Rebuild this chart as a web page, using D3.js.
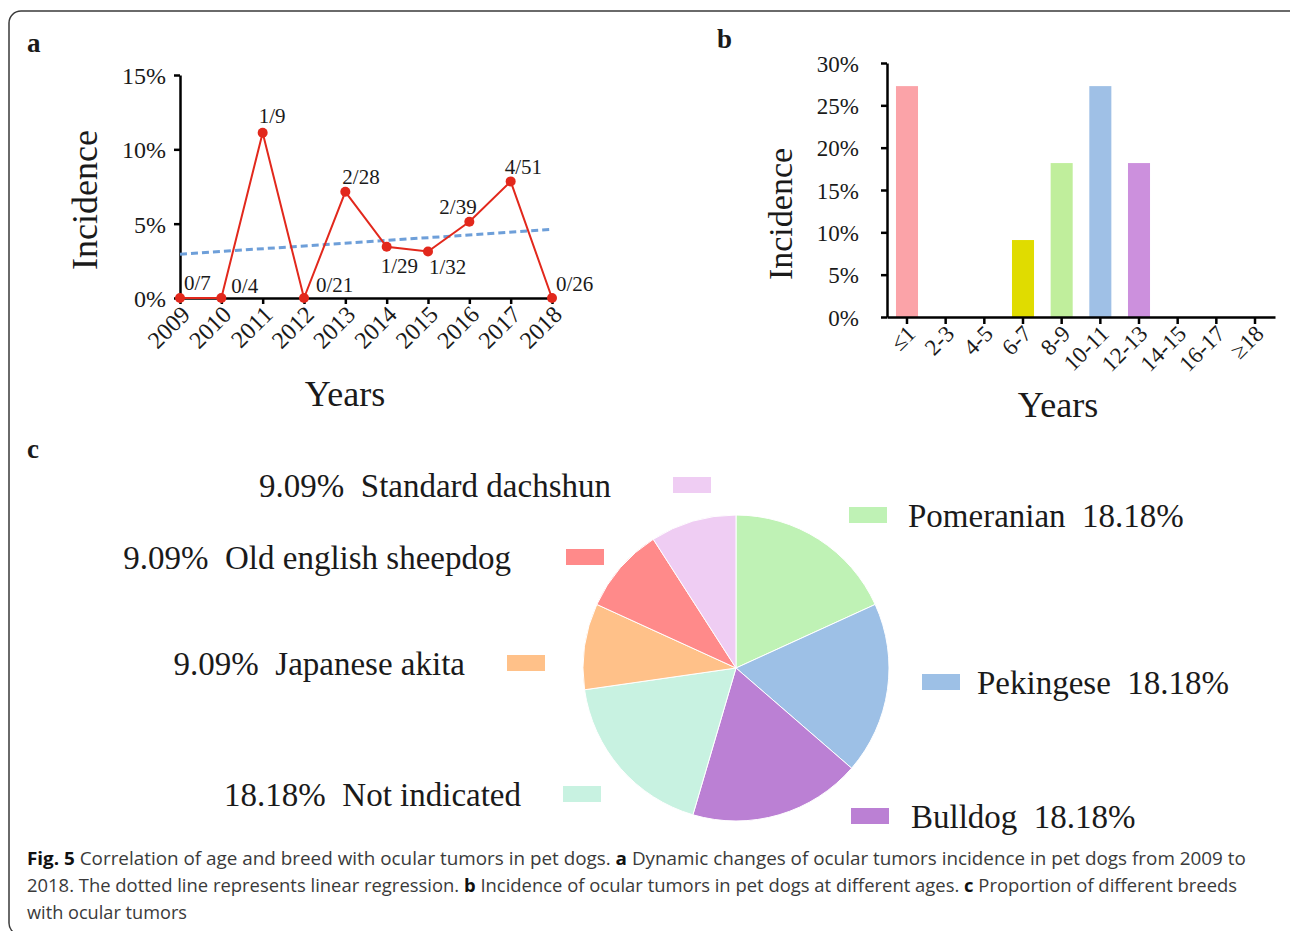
<!DOCTYPE html>
<html>
<head>
<meta charset="utf-8">
<script src="https://cdn.jsdelivr.net/npm/d3@7"></script>
<style>
  body { margin: 0; background: #fff; }
  svg { display: block; }
  .serif { font-family: "Liberation Serif", "Times New Roman", serif; fill: #1a1a1a; }
</style>
</head>
<body>
<div class="container"></div>
<script>
// panel a: cases / total per year
var years = ['2009', '2010', '2011', '2012', '2013', '2014', '2015', '2016', '2017', '2018'];
var cases = [0, 0, 1, 0, 2, 1, 1, 2, 4, 0];
var totals = [7, 4, 9, 21, 28, 29, 32, 39, 51, 26];
var yTicksA = [0, 0.05, 0.10, 0.15];

// panel b: incidence by age group
var ageGroups = ['\u22641', '2-3', '4-5', '6-7', '8-9', '10-11', '12-13', '14-15', '16-17', '\u226518'];
var ageIncidence = [0.2727, 0, 0, 0.0909, 0.1818, 0.2727, 0.1818, 0, 0, 0];
var ageColors = ['#fba3a8', '#fff', '#fff', '#e0dc00', '#c0ee9c', '#9fc0e6', '#cc90dd', '#fff', '#fff', '#fff'];
var yTicksB = [0, 0.05, 0.10, 0.15, 0.20, 0.25, 0.30];

// panel c: breeds (clockwise from 12 o'clock)
var breeds = ['Pomeranian', 'Pekingese', 'Bulldog', 'Not indicated', 'Japanese akita', 'Old english sheepdog', 'Standard dachshun'];
var breedShare = [18.18, 18.18, 18.18, 18.18, 9.09, 9.09, 9.09];
var breedColors = ['#bff2b5', '#9dc0e6', '#bb80d4', '#c8f2e1', '#ffc189', '#ff8a8a', '#efcdf3'];

var captionLines = [
    [['Fig. 5', true], [' Correlation of age and breed with ocular tumors in pet dogs. ', false], ['a', true], [' Dynamic changes of ocular tumors incidence in pet dogs from 2009 to', false]],
    [['2018. The dotted line represents linear regression. ', false], ['b', true], [' Incidence of ocular tumors in pet dogs at different ages. ', false], ['c', true], [' Proportion of different breeds', false]],
    [['with ocular tumors', false]]
];
var captionWidths = [1220, 1211, 160];

var drawChart = function () {
    var svg = d3.select('.container')
        .append('svg')
        .attr('width', 1290)
        .attr('height', 931);

    // frame
    svg.append('rect')
        .attr('x', 9).attr('y', 11)
        .attr('width', 1300).attr('height', 924)
        .attr('rx', 12)
        .style('fill', 'none')
        .style('stroke', '#3a3a3a')
        .style('stroke-width', 1.5);

    // ---------- panel a ----------
    var rates = cases.map(function (c, i) { return c / totals[i]; });
    var xA = d3.scalePoint().domain(years).range([180, 552]);
    var yA = d3.scaleLinear().domain([0, 0.15]).range([298, 75]);
    var gA = svg.append('g');

    svg.append('text').attr('class', 'serif').attr('x', 27).attr('y', 52)
        .style('font-size', '27px').style('font-weight', 'bold').text('a');

    var axisYA = gA.append('g')
        .attr('transform', 'translate(180,0)')
        .call(d3.axisLeft(yA).tickValues(yTicksA).tickSize(6).tickSizeOuter(0)
            .tickFormat(function (d) { return Math.round(d * 100) + '%'; }));
    var axisXA = gA.append('g')
        .attr('transform', 'translate(0,298)')
        .call(d3.axisBottom(xA).tickSize(6).tickSizeOuter(0));
    [axisYA, axisXA].forEach(function (ax) {
        ax.select('.domain').style('stroke', '#000').style('stroke-width', 2.5);
        ax.selectAll('.tick line').style('stroke', '#000').style('stroke-width', 2.5);
        ax.selectAll('text').attr('class', 'serif').style('font-size', '24px');
    });
    axisYA.selectAll('text').attr('x', -14).attr('dy', '0.35em');
    axisXA.selectAll('text')
        .style('text-anchor', 'end')
        .attr('x', 0).attr('y', 0).attr('dy', 0)
        .attr('transform', 'translate(11,18) rotate(-45)');

    // linear regression
    var n = rates.length;
    var mx = d3.mean(d3.range(n));
    var my = d3.mean(rates);
    var sxy = d3.sum(rates, function (r, i) { return (i - mx) * (r - my); });
    var sxx = d3.sum(d3.range(n), function (i) { return (i - mx) * (i - mx); });
    var slope = sxy / sxx;
    var icpt = my - slope * mx;
    gA.append('line')
        .attr('x1', xA(years[0])).attr('y1', yA(icpt))
        .attr('x2', xA(years[n - 1])).attr('y2', yA(icpt + slope * (n - 1)))
        .style('stroke', '#6e9fd9')
        .style('stroke-width', 3)
        .style('stroke-dasharray', '7,4');

    gA.append('path')
        .datum(rates)
        .attr('d', d3.line().x(function (d, i) { return xA(years[i]); }).y(function (d) { return yA(d); }))
        .style('fill', 'none')
        .style('stroke', '#e2281c')
        .style('stroke-width', 2);
    gA.selectAll('circle.pt')
        .data(rates).enter().append('circle')
        .attr('cx', function (d, i) { return xA(years[i]); })
        .attr('cy', function (d) { return yA(d); })
        .attr('r', 5)
        .style('fill', '#e2281c');

    var labelOff = [[4, -8], [10, -5], [-4, -10], [12, -6], [-3, -8], [-6, 26], [1, 22], [-30, -8], [-6, -7], [4, -7]];
    gA.selectAll('text.pl')
        .data(rates).enter().append('text')
        .attr('class', 'serif')
        .attr('x', function (d, i) { return xA(years[i]) + labelOff[i][0]; })
        .attr('y', function (d, i) { return yA(d) + labelOff[i][1]; })
        .style('font-size', '21px')
        .text(function (d, i) { return cases[i] + '/' + totals[i]; });

    gA.append('text').attr('class', 'serif')
        .attr('transform', 'translate(97,200) rotate(-90)')
        .style('text-anchor', 'middle')
        .style('font-size', '36px')
        .text('Incidence');
    gA.append('text').attr('class', 'serif')
        .attr('x', 345).attr('y', 406)
        .style('text-anchor', 'middle')
        .style('font-size', '36px')
        .text('Years');

    // ---------- panel b ----------
    var xB = d3.scaleBand().domain(ageGroups).range([887, 1275]).paddingInner(0.43).paddingOuter(0.232);
    var yB = d3.scaleLinear().domain([0, 0.30]).range([317, 63]);
    var gB = svg.append('g');

    svg.append('text').attr('class', 'serif').attr('x', 717).attr('y', 48)
        .style('font-size', '27px').style('font-weight', 'bold').text('b');

    gB.selectAll('rect.bar')
        .data(ageIncidence).enter().append('rect')
        .attr('x', function (d, i) { return xB(ageGroups[i]); })
        .attr('y', function (d) { return yB(d); })
        .attr('width', xB.bandwidth())
        .attr('height', function (d) { return yB(0) - yB(d); })
        .style('fill', function (d, i) { return ageColors[i]; });

    var axisYB = gB.append('g')
        .attr('transform', 'translate(887,0)')
        .call(d3.axisLeft(yB).tickValues(yTicksB).tickSize(6).tickSizeOuter(0)
            .tickFormat(function (d) { return Math.round(d * 100) + '%'; }));
    var axisXB = gB.append('g')
        .attr('transform', 'translate(0,317)')
        .call(d3.axisBottom(xB).tickSize(7).tickSizeOuter(0));
    [axisYB, axisXB].forEach(function (ax) {
        ax.select('.domain').style('stroke', '#000').style('stroke-width', 2.5);
        ax.selectAll('.tick line').style('stroke', '#000').style('stroke-width', 2.5);
        ax.selectAll('text').attr('class', 'serif').style('font-size', '23px');
    });
    axisYB.selectAll('text').attr('x', -28).attr('dy', '0.35em');
    axisXB.selectAll('text')
        .style('text-anchor', 'end')
        .attr('x', 0).attr('y', 0).attr('dy', 0)
        .attr('transform', 'translate(10,18) rotate(-45)');

    gB.append('text').attr('class', 'serif')
        .attr('transform', 'translate(792,214) rotate(-90)')
        .style('text-anchor', 'middle')
        .style('font-size', '34px')
        .text('Incidence');
    gB.append('text').attr('class', 'serif')
        .attr('x', 1058).attr('y', 417)
        .style('text-anchor', 'middle')
        .style('font-size', '36px')
        .text('Years');

    // ---------- panel c ----------
    svg.append('text').attr('class', 'serif').attr('x', 27).attr('y', 458)
        .style('font-size', '27px').style('font-weight', 'bold').text('c');

    var pie = d3.pie().sort(null).value(function (d) { return d; });
    var arc = d3.arc().innerRadius(0).outerRadius(153);
    var gC = svg.append('g').attr('transform', 'translate(736,668)');
    gC.selectAll('path')
        .data(pie(breedShare)).enter().append('path')
        .attr('d', arc)
        .style('fill', function (d, i) { return breedColors[i]; })
        .style('stroke', '#fff')
        .style('stroke-width', 1);

    // legend placement: [rect x, rect y, text x, text side]
    var legendPos = [[849, 507, 908, 'r'], [922, 674, 977, 'r'], [851, 808, 911, 'r'],
        [563, 786, 521, 'l'], [507, 655, 465, 'l'], [566, 549, 511, 'l'], [673, 477, 611, 'l']];
    var leg = svg.append('g');
    breeds.forEach(function (b, i) {
        var p = legendPos[i];
        leg.append('rect')
            .attr('x', p[0]).attr('y', p[1])
            .attr('width', 38).attr('height', 16)
            .style('fill', breedColors[i]);
        var pct = breedShare[i].toFixed(2) + '%';
        var t = leg.append('text').attr('class', 'serif')
            .attr('x', p[2])
            .attr('y', p[1] + 20)
            .style('font-size', '33px')
            .style('white-space', 'pre');
        if (p[3] === 'r') {
            t.text(b + '  ' + pct);
        } else {
            t.style('text-anchor', 'end').text(pct + '  ' + b);
        }
    });

    // ---------- caption ----------
    var cap = svg.append('g');
    var lines = [];
    captionLines.forEach(function (parts) {
        var t = cap.append('text')
            .attr('x', 0).attr('y', 0)
            .style('font-family', '"Open Sans", sans-serif')
            .style('font-size', '18.5px')
            .style('fill', '#3a3a3a')
            .style('white-space', 'pre');
        parts.forEach(function (p) {
            t.append('tspan').text(p[0])
                .style('font-weight', p[1] ? 'bold' : 'normal')
                .style('fill', p[1] ? '#111' : '#3a3a3a');
        });
        lines.push(t);
    });
    lines.forEach(function (t, li) {
        var sx = captionWidths[li] / t.node().getComputedTextLength();
        t.attr('transform', 'translate(27,' + (865 + li * 27) + ') scale(' + sx + ',1)');
    });
};
window.onload = drawChart;
</script>
</body>
</html>
